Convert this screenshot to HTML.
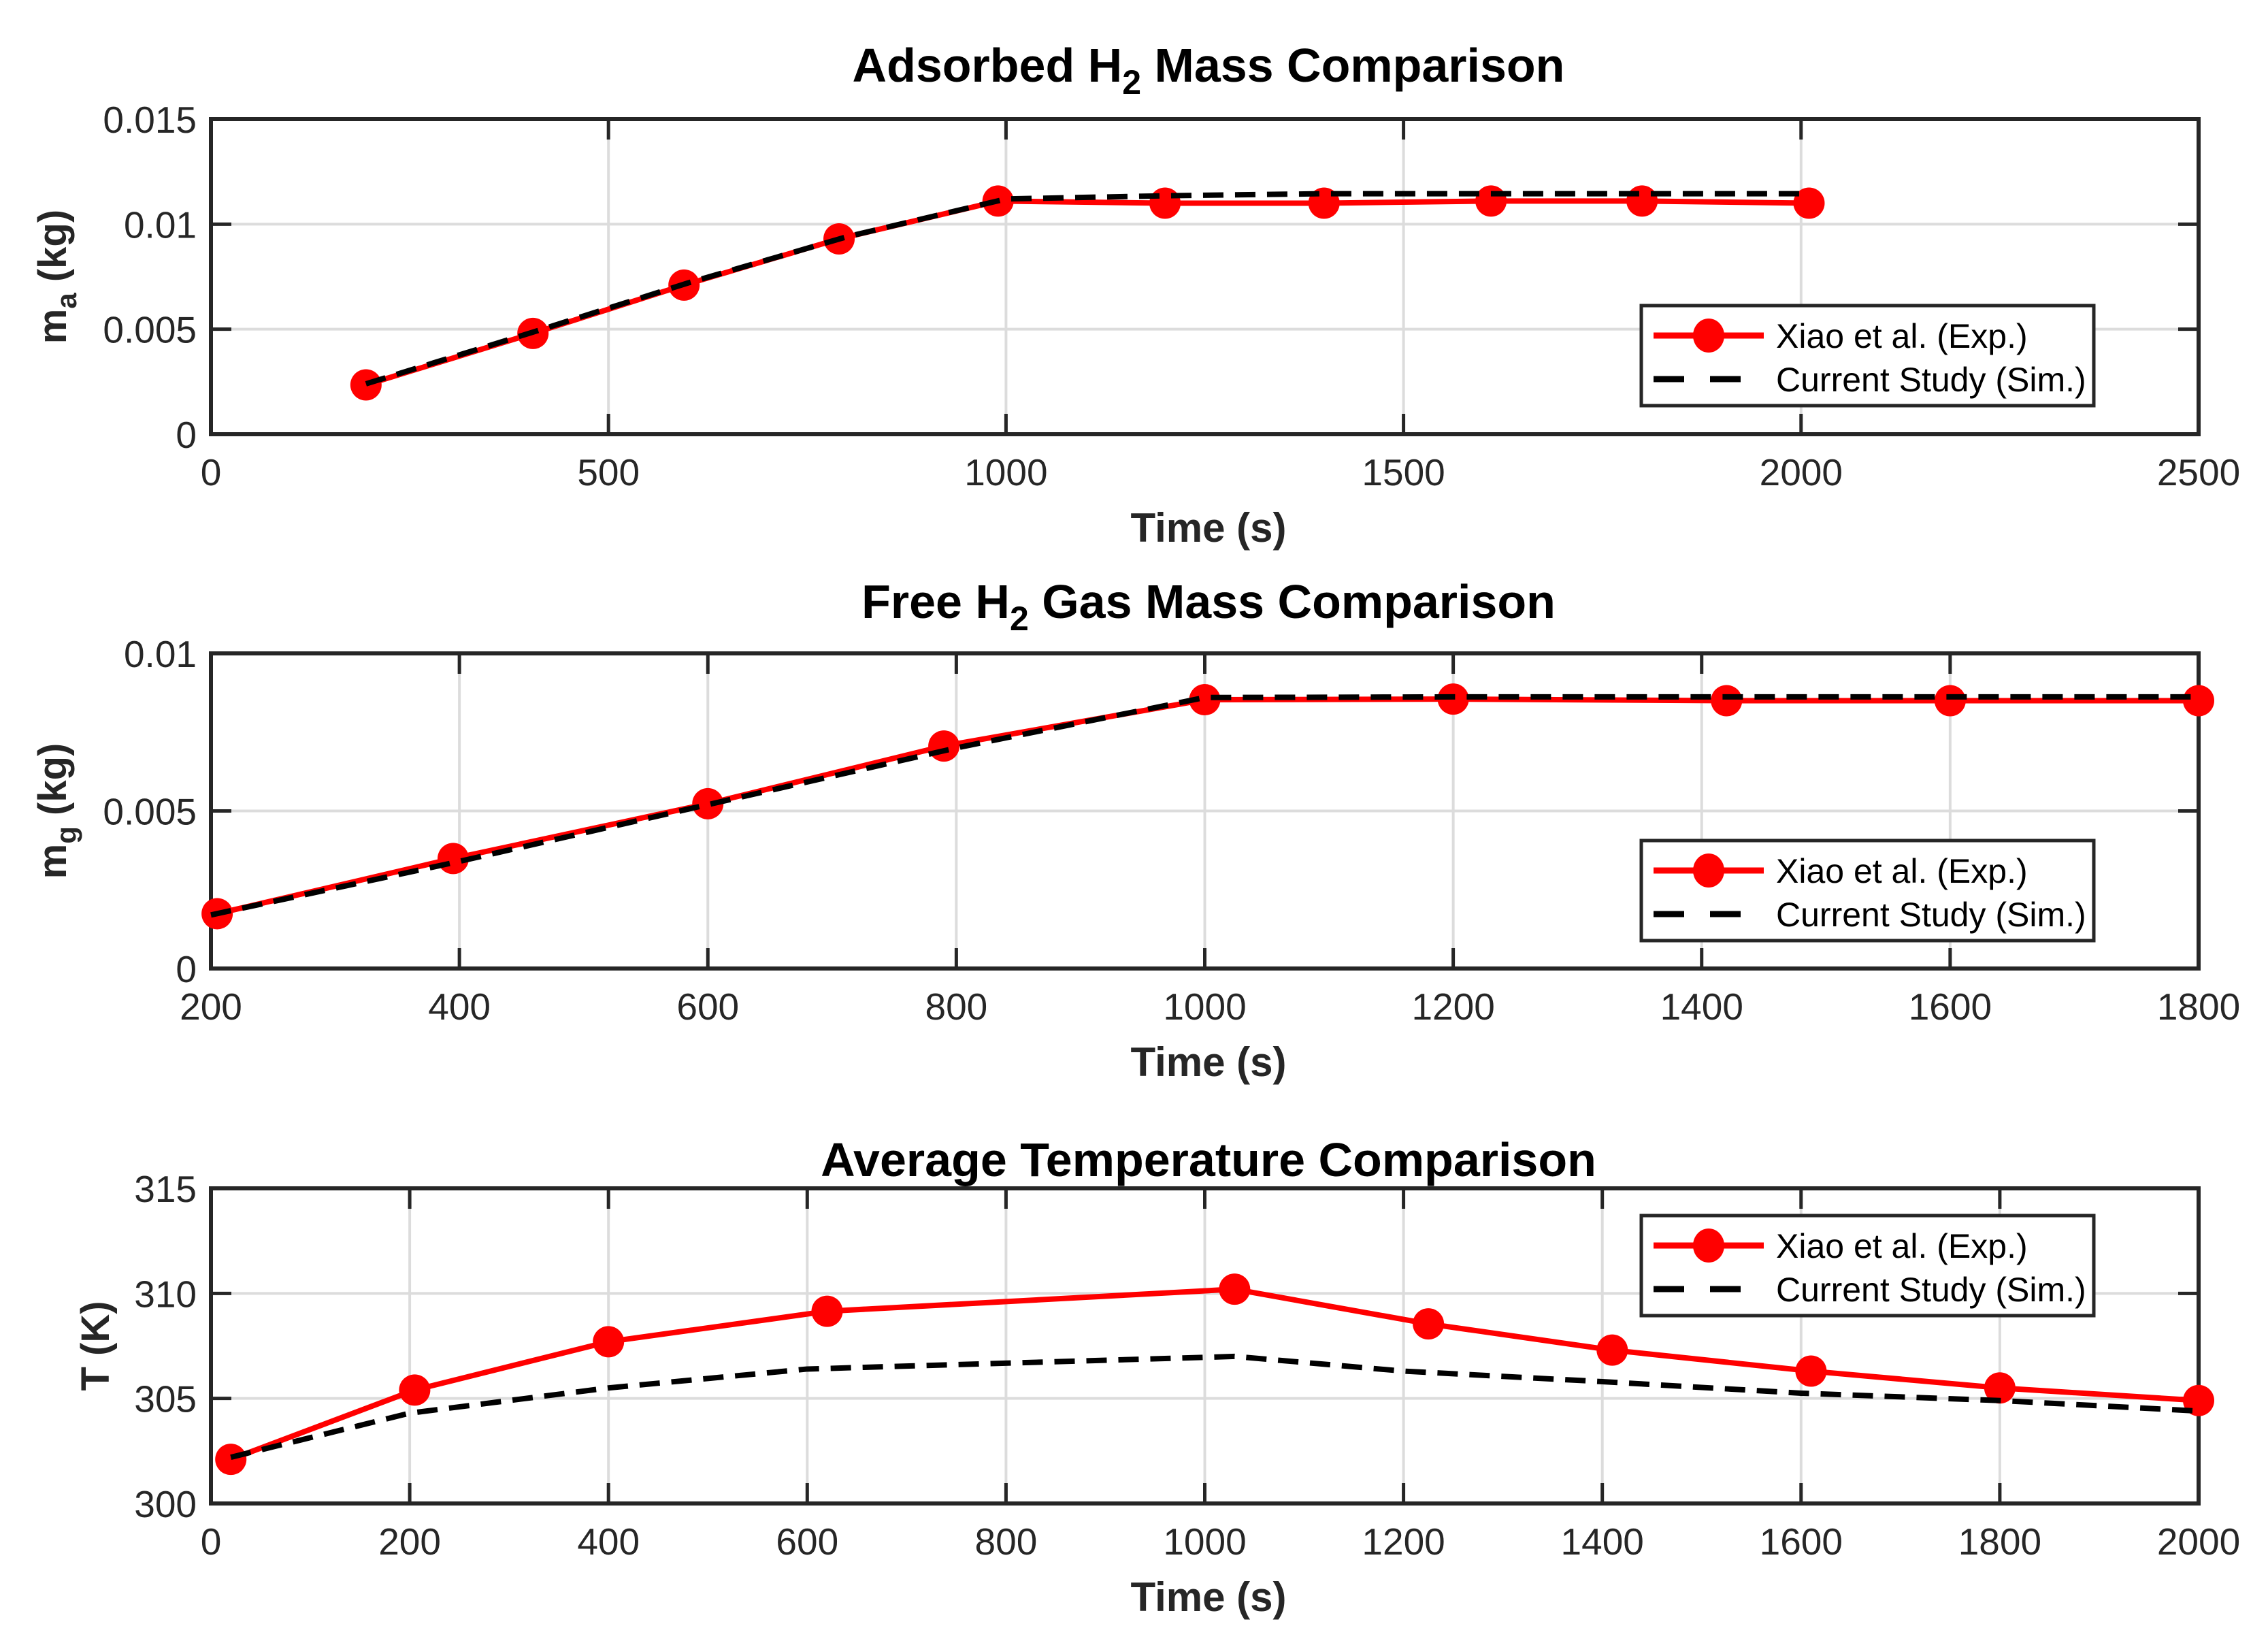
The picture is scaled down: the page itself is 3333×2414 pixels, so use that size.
<!DOCTYPE html>
<html><head><meta charset="utf-8"><style>
html,body{margin:0;padding:0;background:#fff;}
svg{display:block;font-family:"Liberation Sans",Arial,sans-serif;}
</style></head><body>
<svg id="fig" width="3333" height="2414" viewBox="0 0 3333 2414" xmlns="http://www.w3.org/2000/svg"></svg>
<script>
// ---- Panel 1: adsorbed mass ----
const p1ExpX = [195, 405, 595, 790, 990, 1200, 1400, 1610, 1800, 2010];
const p1ExpY = [0.00235, 0.0048, 0.0071, 0.0093, 0.0111, 0.0110, 0.0110, 0.0111, 0.0111, 0.0110];
const p1SimX = [195, 400, 600, 800, 1000, 1200, 1400, 1600, 1800, 2010];
const p1SimY = [0.0024, 0.0048, 0.0072, 0.0094, 0.0112, 0.01135, 0.01145, 0.01145, 0.01145, 0.01145];
const p1XTicks = [0, 500, 1000, 1500, 2000, 2500];
const p1XTickLabels = ["0", "500", "1000", "1500", "2000", "2500"];
const p1YTicks = [0, 0.005, 0.01, 0.015];
const p1YTickLabels = ["0", "0.005", "0.01", "0.015"];
// ---- Panel 2: free gas mass ----
const p2ExpX = [205, 395, 600, 790, 1000, 1200, 1420, 1600, 1800];
const p2ExpY = [0.00174, 0.00349, 0.00523, 0.00706, 0.00853, 0.00855, 0.0085, 0.0085, 0.0085];
const p2SimX = [200, 400, 600, 800, 1000, 1200, 1400, 1600, 1800];
const p2SimY = [0.0017, 0.0034, 0.0052, 0.0070, 0.0086, 0.00862, 0.00862, 0.00862, 0.00862];
const p2XTicks = [200, 400, 600, 800, 1000, 1200, 1400, 1600, 1800];
const p2XTickLabels = ["200", "400", "600", "800", "1000", "1200", "1400", "1600", "1800"];
const p2YTicks = [0, 0.005, 0.01];
const p2YTickLabels = ["0", "0.005", "0.01"];
// ---- Panel 3: temperature ----
const p3ExpX = [20, 205, 400, 620, 1030, 1225, 1410, 1610, 1800, 2000];
const p3ExpY = [302.1, 305.4, 307.7, 309.15, 310.2, 308.55, 307.3, 306.3, 305.5, 304.9];
const p3SimX = [20, 200, 400, 600, 1030, 1200, 1400, 1600, 1800, 2000];
const p3SimY = [302.2, 304.3, 305.5, 306.4, 307.0, 306.3, 305.8, 305.25, 304.9, 304.4];
const p3XTicks = [0, 200, 400, 600, 800, 1000, 1200, 1400, 1600, 1800, 2000];
const p3XTickLabels = ["0", "200", "400", "600", "800", "1000", "1200", "1400", "1600", "1800", "2000"];
const p3YTicks = [300, 305, 310, 315];
const p3YTickLabels = ["300", "305", "310", "315"];

const NS = "http://www.w3.org/2000/svg";
const svg = document.getElementById("fig");
function mk(tag, attrs, parent) {
  const e = document.createElementNS(NS, tag);
  for (const k in attrs) e.setAttribute(k, attrs[k]);
  (parent || svg).appendChild(e);
  return e;
}

function panel(cfg) {
  const g = mk("g", {});
  
  
  const L = 310, R = 3231, T = cfg.top, B = cfg.bottom;
  const sx = v => L + (v - cfg.xmin) / (cfg.xmax - cfg.xmin) * (R - L);
  const sy = v => B - (v - cfg.ymin) / (cfg.ymax - cfg.ymin) * (B - T);
  cfg.xt.forEach(v => {
    const l = mk("line", {x1: sx(v), x2: sx(v), y1: T, y2: B, stroke: "#dcdcdc", "stroke-width": 4}, g);
    
    
  });
  cfg.yt.forEach(v => {
    const l = mk("line", {x1: L, x2: R, y1: sy(v), y2: sy(v), stroke: "#dcdcdc", "stroke-width": 4}, g);
    
    
  });
  const tl = 30;
  cfg.xt.forEach((v, i) => {
    mk("line", {x1: sx(v), x2: sx(v), y1: B, y2: B - tl, stroke: "#262626", "stroke-width": 5}, g);
    mk("line", {x1: sx(v), x2: sx(v), y1: T, y2: T + tl, stroke: "#262626", "stroke-width": 5}, g);
    const t = mk("text", {x: sx(v), y: B + 75, "text-anchor": "middle", "font-size": 55, fill: "#262626"}, g);
    
    
    t.textContent = cfg.xl[i];
  });
  cfg.yt.forEach((v, i) => {
    mk("line", {x1: L, x2: L + tl, y1: sy(v), y2: sy(v), stroke: "#262626", "stroke-width": 5}, g);
    mk("line", {x1: R, x2: R - tl, y1: sy(v), y2: sy(v), stroke: "#262626", "stroke-width": 5}, g);
    const t = mk("text", {x: 289, y: sy(v) + 20, "text-anchor": "end", "font-size": 55, fill: "#262626"}, g);
    
    
    t.textContent = cfg.yl[i];
  });
  const box = mk("rect", {x: L, y: T, width: R - L, height: B - T, fill: "none", stroke: "#262626", "stroke-width": 6}, g);
  
  
  const ep = cfg.ex.map((x, i) => sx(x) + "," + sy(cfg.ey[i])).join(" ");
  const el = mk("polyline", {points: ep, fill: "none", stroke: "#ff0000", "stroke-width": 8, "stroke-linejoin": "round"}, g);
  
  
  cfg.ex.forEach((x, i) => {
    const c = mk("ellipse", {cx: sx(x), cy: sy(cfg.ey[i]), rx: 23, ry: 23, fill: "#ff0000"}, g);
    
    
  });
  const sp = cfg.sx_.map((x, i) => sx(x) + "," + sy(cfg.sy_[i])).join(" ");
  const sl = mk("polyline", {points: sp, fill: "none", stroke: "#000", "stroke-width": 8, "stroke-dasharray": "30 17"}, g);
  
  
  const tt = mk("text", {x: 1776, y: cfg.titleY, "text-anchor": "middle", "font-size": 70, "font-weight": "bold", fill: "#000"}, g);
  
  
  tt.innerHTML = cfg.title;
  const xl = mk("text", {x: 1776, y: B + 158, "text-anchor": "middle", "font-size": 60, "font-weight": "bold", fill: "#262626"}, g);
  
  
  xl.textContent = "Time (s)";
  const cy = (T + B) / 2;
  const yl = mk("text", {x: cfg.ylx, y: cy, "text-anchor": "middle", "font-size": 58, "font-weight": "bold", fill: "#262626", transform: "rotate(-90 " + cfg.ylx + " " + cy + ")"}, g);
  
  
  yl.innerHTML = cfg.ylab;
  const lg = mk("g", {}, g);
  
  
  const LT = cfg.legTop;
  mk("rect", {x: 2412, y: LT, width: 665, height: 147, fill: "#fff", stroke: "#262626", "stroke-width": 5}, lg);
  mk("line", {x1: 2430, x2: 2592, y1: LT + 44, y2: LT + 44, stroke: "#ff0000", "stroke-width": 9}, lg);
  mk("ellipse", {cx: 2511, cy: LT + 44, rx: 23, ry: 25, fill: "#ff0000"}, lg);
  const t1 = mk("text", {x: 2610, y: LT + 62, "font-size": 50, fill: "#000"}, lg);
  
  
  t1.textContent = "Xiao et al. (Exp.)";
  mk("line", {x1: 2430, x2: 2592, y1: LT + 108, y2: LT + 108, stroke: "#000", "stroke-width": 9, "stroke-dasharray": "45 38"}, lg);
  const t2 = mk("text", {x: 2610, y: LT + 126, "font-size": 50, fill: "#000"}, lg);
  
  
  t2.textContent = "Current Study (Sim.)";
}

panel({name: "adsorbed-mass-panel", top: 175, bottom: 638, xmin: 0, xmax: 2500, ymin: 0, ymax: 0.015,
  xt: p1XTicks, xl: p1XTickLabels, yt: p1YTicks, yl: p1YTickLabels,
  ex: p1ExpX, ey: p1ExpY, sx_: p1SimX, sy_: p1SimY, titleY: 120,
  title: 'Adsorbed H<tspan font-size="50" dy="18">2</tspan><tspan dy="-18"> Mass Comparison</tspan>',
  ylx: 97, ylab: 'm<tspan font-size="42" dy="15">a</tspan><tspan dy="-15"> (kg)</tspan>', legTop: 449});
panel({name: "gas-mass-panel", top: 960, bottom: 1423, xmin: 200, xmax: 1800, ymin: 0, ymax: 0.01,
  xt: p2XTicks, xl: p2XTickLabels, yt: p2YTicks, yl: p2YTickLabels,
  ex: p2ExpX, ey: p2ExpY, sx_: p2SimX, sy_: p2SimY, titleY: 908,
  title: 'Free H<tspan font-size="50" dy="18">2</tspan><tspan dy="-18"> Gas Mass Comparison</tspan>',
  ylx: 97, ylab: 'm<tspan font-size="42" dy="15">g</tspan><tspan dy="-15"> (kg)</tspan>', legTop: 1235});
panel({name: "temperature-panel", top: 1746, bottom: 2209, xmin: 0, xmax: 2000, ymin: 300, ymax: 315,
  xt: p3XTicks, xl: p3XTickLabels, yt: p3YTicks, yl: p3YTickLabels,
  ex: p3ExpX, ey: p3ExpY, sx_: p3SimX, sy_: p3SimY, titleY: 1728,
  title: 'Average Temperature Comparison',
  ylx: 160, ylab: 'T (K)', legTop: 1786});
</script>
</body></html>
